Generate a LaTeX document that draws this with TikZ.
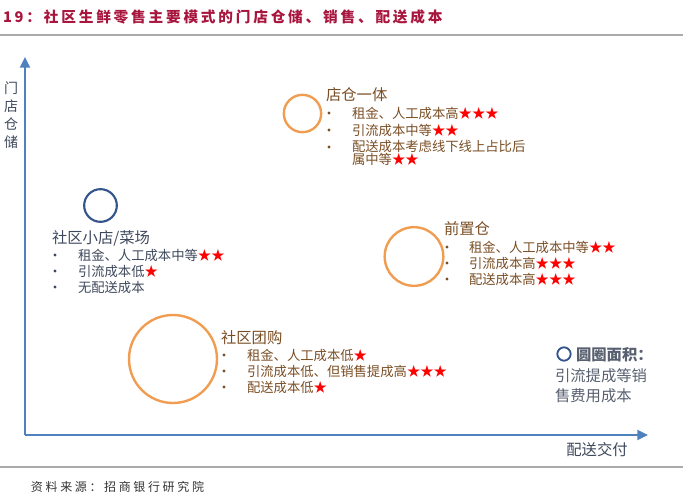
\documentclass[tikz,border=0pt]{standalone}
\usepackage{fontspec}
\setmainfont{Noto Sans CJK SC}
\usepackage{tikz}
\usetikzlibrary{arrows.meta}
\usetikzlibrary{positioning}

\definecolor{titlered}{RGB}{168,22,62}
\definecolor{axisblue}{RGB}{79,129,189}
\definecolor{navy}{RGB}{52,85,140}
\definecolor{ringorange}{RGB}{240,157,82}
\definecolor{brown}{RGB}{122,78,36}
\definecolor{slate}{RGB}{62,72,92}
\definecolor{keygrey}{RGB}{88,96,112}
\definecolor{rulegrey}{RGB}{170,170,170}

\begin{document}
\begin{tikzpicture}[x=0.75pt,y=-0.75pt,
  every node/.style={inner sep=0pt,outer sep=0pt},
  rule/.style={rulegrey,line width=1.4pt},
  axis/.style={axisblue,line width=1.4pt,-{Triangle[length=8pt,width=7.5pt]}},
  ring/.style={circle,draw=ringorange,line width=1.8pt},
  navyring/.style={circle,draw=navy,line width=1.6pt},
  head/.style={anchor=west,font=\fontsize{11.5}{13}\selectfont},
  dot/.style={circle,minimum size=2.4pt},
  item/.style={anchor=west,font=\fontsize{10}{12}\selectfont},
  ]
\useasboundingbox (0,0) rectangle (683,493);

% title and rules
\node[anchor=west,text=titlered,font=\fontsize{11}{13}\selectfont\bfseries\addfontfeature{LetterSpace=19}] (title) at (3,17) {19：社区生鲜零售主要模式的门店仓储、销售、配送成本};
\draw[rule] (0,35) -- (683,35);
\draw[rule] (0,467) -- (683,467);
\node[anchor=west,text=black!80,font=\fontsize{9}{11}\selectfont\addfontfeature{LetterSpace=22}] (src) at (31,487) {资料来源：招商银行研究院};

% axes
\coordinate (o) at (25,435);
\coordinate (ytop) at (25,57);
\coordinate (xend) at (648,435);
\draw[axis] (o) -- (ytop);
\draw[axis] (o) -- (xend);
\node[text=slate,align=center,font=\fontsize{10.5}{13.5}\selectfont] (ylab) at (11,115) {门\\店\\仓\\储};
\node[text=slate,font=\fontsize{11.5}{13}\selectfont] (xlab) at (597,450) {配送交付};

% 社区小店/菜场
\node[navyring,minimum size=24.5pt] (shop) at (100.5,205.5) {};
\node[head,text=slate] (shopt) at (52,238) {社区小店/菜场};
\node[dot,fill=slate] at (55,255) {};
\node[item,text=slate] (shop1) at (78,255) {租金、人工成本中等{\color{red}★★}};
\node[dot,fill=slate] at (55,271) {};
\node[item,text=slate] (shop2) at (78,271) {引流成本低{\color{red}★}};
\node[dot,fill=slate] at (55,287) {};
\node[item,text=slate] (shop3) at (78,287) {无配送成本};

% 店仓一体
\node[ring,minimum size=28pt] (store) at (302.5,113.5) {};
\node[head,text=brown] (storet) at (326,95) {店仓一体};
\node[dot,fill=brown] at (329,113) {};
\node[item,text=brown] (store1) at (352,113) {租金、人工成本高{\color{red}★★★}};
\node[dot,fill=brown] at (329,130) {};
\node[item,text=brown] (store2) at (352,130) {引流成本中等{\color{red}★★}};
\node[dot,fill=brown] at (329,147) {};
\node[item,text=brown,align=left,font=\fontsize{10}{10}\selectfont,anchor=north west] (store3) at (352,140) {配送成本考虑线下线上占比后\\属中等{\color{red}★★}};

% 前置仓
\node[ring,minimum size=44pt] (front) at (414,256.5) {};
\node[head,text=brown] (frontt) at (444,229) {前置仓};
\node[dot,fill=brown] at (447,247) {};
\node[item,text=brown] (front1) at (469,247) {租金、人工成本中等{\color{red}★★}};
\node[dot,fill=brown] at (447,263) {};
\node[item,text=brown] (front2) at (469,263) {引流成本高{\color{red}★★★}};
\node[dot,fill=brown] at (447,279) {};
\node[item,text=brown] (front3) at (469,279) {配送成本高{\color{red}★★★}};

% 社区团购
\node[ring,minimum size=66pt] (group) at (173,359) {};
\node[head,text=brown] (groupt) at (221,338) {社区团购};
\node[dot,fill=brown] at (224,355) {};
\node[item,text=brown] (group1) at (247,355) {租金、人工成本低{\color{red}★}};
\node[dot,fill=brown] at (224,371) {};
\node[item,text=brown] (group2) at (247,371) {引流成本低、但销售提成高{\color{red}★★★}};
\node[dot,fill=brown] at (224,387) {};
\node[item,text=brown] (group3) at (247,387) {配送成本低{\color{red}★}};

% legend
\node[navyring,minimum size=10pt,line width=1.4pt] (key) at (564,354) {};
\node[head,text=keygrey,font=\fontsize{11.5}{13}\selectfont\bfseries] (keyt) at (576,355) {圆圈面积：};
\node[text=keygrey,align=left,anchor=north west,font=\fontsize{11.5}{14.5}\selectfont] (keyb) at (555,369) {引流提成等销\\售费用成本};
\end{tikzpicture}
\end{document}
